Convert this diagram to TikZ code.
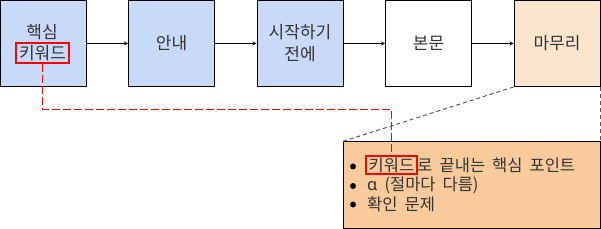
\documentclass[tikz,border=0pt]{standalone}
\usepackage{fontspec}
\setmainfont{Noto Sans CJK KR}
\newfontfamily\notefont[WordSpace=1.9]{Noto Sans CJK KR}
\newfontfamily\greekfont{Noto Sans}
\usetikzlibrary{positioning}
\definecolor{stepblue}{HTML}{C9DAF8}
\definecolor{endpeach}{HTML}{FCE5CD}
\definecolor{notefill}{HTML}{F9CB9C}
\definecolor{markred}{HTML}{FF0000}
\definecolor{guidegray}{HTML}{595959}
\definecolor{inkgray}{HTML}{333333}

\begin{document}
\begin{tikzpicture}[x=1pt,y=-1pt,font=\fontsize{17}{22}\selectfont,>=stealth,
    stage/.style={draw=black,line width=1pt,minimum width=86pt,minimum height=86pt,align=center,inner sep=0pt,text=inkgray},
    redmark/.style={draw=markred,line width=2pt,inner xsep=3pt,inner ysep=2pt,text=inkgray},
    plain/.style={inner sep=0pt,text=inkgray,font=\fontsize{16.5}{22}\notefont},
    dot/.style={circle,fill=black,inner sep=0pt,minimum size=6pt},
    reddash/.style={markred,line width=1pt,dash pattern=on 8pt off 3pt},
    guide/.style={guidegray,line width=1pt,dash pattern=on 4pt off 3pt},
    link/.style={->,line width=0.8pt}]
    \useasboundingbox (0,0) rectangle (601,229);
    % stages
    \node[stage,fill=stepblue] (intro) at (43.5,43.5) {};
    \node[inner sep=0pt,text=inkgray] (core) at (42,32.5) {핵심};
    \node[redmark] (kw) at (42.5,53) {키워드};
    \node[stage,fill=stepblue] (guide1) at (171.5,43.5) {안내};
    \node[stage,fill=stepblue] (before) at (300,43.5) {시작하기\\전에};
    \node[stage,fill=white] (body) at (428.5,43.5) {본문};
    \node[stage,fill=endpeach] (outro) at (557,43.5) {마무리};
    \draw[link] (intro) -- (guide1);
    \draw[link] (guide1) -- (before);
    \draw[link] (before) -- (body);
    \draw[link] (body) -- (outro);
    % note box
    \node[draw=black,line width=1pt,fill=notefill,minimum width=257pt,minimum height=86pt] (note) at (471.5,185) {};
    \draw[guide] (outro.south west) -- (note.north west);
    \draw[guide] (outro.south east) -- (note.north east);
    \node[redmark,font=\fontsize{16.5}{22}\notefont] (kwnote) at (391.5,165) {키워드};
    \node[plain,right=-1pt of kwnote] (line1) {로 끝내는 핵심 포인트};
    \node[plain,anchor=west] (line2) at (367,185.5) {{\greekfont α} (절마다 다름)};
    \node[plain,anchor=west] (line3) at (367,204.5) {확인 문제};
    \node[dot] (dot1) at (353,166.5) {};
    \node[dot] (dot2) at (353,186) {};
    \node[dot] (dot3) at (353,204.5) {};
    \draw[reddash] (kw.south) -- ++(0,45.5) -| (kwnote.north);
\end{tikzpicture}
\end{document}
